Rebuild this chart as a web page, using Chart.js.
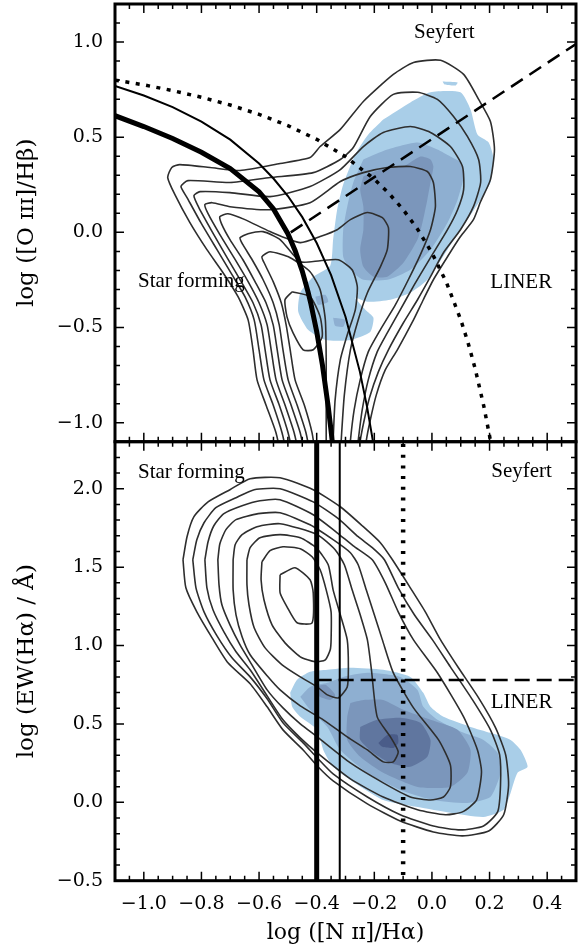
<!DOCTYPE html>
<html>
<head>
<meta charset="utf-8">
<title>BPT and WHAN diagrams</title>
<script src="https://cdn.jsdelivr.net/npm/chart.js@4.4.1/dist/chart.umd.min.js"></script>
<style>
  html, body { margin: 0; padding: 0; background: #fff; }
  #wrap { position: relative; width: 579px; height: 949px; }
  #wrap canvas { position: absolute; left: 0; top: 0; }
</style>
</head>
<body>
<div id="wrap">
  <canvas id="bpt" width="579" height="949"></canvas>
  <canvas id="whan" width="579" height="949"></canvas>
</div>
<script>
// --- Tick values ---
const xTicks = [-1.0, -0.8, -0.6, -0.4, -0.2, 0.0, 0.2, 0.4];
const bptYTicks = [-1.0, -0.5, 0.0, 0.5, 1.0];
const whanYTicks = [-0.5, 0.0, 0.5, 1.0, 1.5, 2.0];

// --- BPT demarcation lines ---
const kewley01 = [[-1.1,0.80],[-1.0,0.775],[-0.9,0.745],[-0.8,0.71],[-0.7,0.669],[-0.6,0.62],[-0.5,0.561],[-0.4,0.489],[-0.3,0.398],[-0.2,0.28],[-0.15,0.206],[-0.1,0.12],[-0.05,0.017],[0.0,-0.108],[0.05,-0.262],[0.1,-0.459],[0.125,-0.578],[0.15,-0.716],[0.18,-0.913],[0.2,-1.069],[0.22,-1.25]];
const kauffmann03 = [[-1.1,0.77],[-1.0,0.719],[-0.9,0.658],[-0.8,0.582],[-0.7,0.487],[-0.6,0.362],[-0.55,0.283],[-0.5,0.191],[-0.45,0.08],[-0.4,-0.056],[-0.35,-0.225],[-0.3,-0.443],[-0.25,-0.733],[-0.225,-0.918],[-0.2,-1.14],[-0.19,-1.242]];
const stasinska06 = [[-1.1,0.613],[-1.0,0.556],[-0.9,0.493],[-0.8,0.421],[-0.7,0.335],[-0.6,0.213],[-0.55,0.123],[-0.5,-0.007],[-0.475,-0.095],[-0.45,-0.204],[-0.43,-0.313],[-0.42,-0.376],[-0.4,-0.521],[-0.38,-0.698],[-0.36,-0.916],[-0.35,-1.043],[-0.34,-1.183]];
const seyfertLinerBpt = [[-0.49,0.0],[0.52,1.01]];

// --- BPT density contours (outer to inner) ---
const bptC1 = [[-0.52,-1.2],[-0.541,-1.054],[-0.576,-0.907],[-0.607,-0.775],[-0.621,-0.617],[-0.638,-0.46],[-0.673,-0.338],[-0.725,-0.212],[-0.781,-0.091],[-0.84,0.051],[-0.892,0.198],[-0.917,0.288],[-0.903,0.341],[-0.875,0.356],[-0.77,0.341],[-0.666,0.325],[-0.527,0.362],[-0.423,0.393],[-0.388,0.451],[-0.318,0.541],[-0.238,0.688],[-0.134,0.83],[-0.064,0.893],[0.03,0.904],[0.11,0.83],[0.162,0.699],[0.203,0.583],[0.217,0.435],[0.203,0.277],[0.169,0.162],[0.144,0.067],[0.099,-0.022],[0.054,-0.128],[0.005,-0.249],[-0.03,-0.354],[-0.064,-0.46],[-0.12,-0.617],[-0.162,-0.723],[-0.193,-0.854],[-0.214,-0.986],[-0.228,-1.096],[-0.235,-1.2]];
const bptC2 = [[-0.499,-1.2],[-0.52,-1.054],[-0.551,-0.907],[-0.583,-0.775],[-0.6,-0.617],[-0.617,-0.46],[-0.649,-0.338],[-0.694,-0.222],[-0.746,-0.091],[-0.802,0.051],[-0.85,0.183],[-0.871,0.241],[-0.847,0.272],[-0.701,0.262],[-0.562,0.288],[-0.412,0.314],[-0.318,0.383],[-0.273,0.446],[-0.214,0.609],[-0.134,0.725],[-0.05,0.736],[0.019,0.699],[0.075,0.609],[0.123,0.504],[0.162,0.383],[0.169,0.262],[0.144,0.135],[0.099,0.014],[0.04,-0.107],[-0.005,-0.233],[-0.05,-0.354],[-0.099,-0.475],[-0.151,-0.617],[-0.186,-0.733],[-0.217,-0.87],[-0.235,-0.986],[-0.249,-1.096],[-0.256,-1.2]];
const bptC3 = [[-0.478,-1.2],[-0.499,-1.054],[-0.53,-0.907],[-0.562,-0.775],[-0.579,-0.617],[-0.593,-0.486],[-0.621,-0.37],[-0.662,-0.259],[-0.711,-0.133],[-0.763,0.004],[-0.809,0.13],[-0.826,0.193],[-0.805,0.214],[-0.701,0.209],[-0.562,0.188],[-0.423,0.241],[-0.318,0.33],[-0.238,0.451],[-0.169,0.525],[-0.075,0.556],[-0.005,0.525],[0.064,0.451],[0.106,0.346],[0.11,0.225],[0.089,0.119],[0.054,0.014],[-0.005,-0.133],[-0.061,-0.275],[-0.11,-0.407],[-0.155,-0.528],[-0.19,-0.628],[-0.221,-0.775],[-0.242,-0.933],[-0.256,-1.096],[-0.263,-1.2]];
const bptC4 = [[-0.457,-1.2],[-0.478,-1.054],[-0.51,-0.907],[-0.541,-0.775],[-0.558,-0.617],[-0.572,-0.486],[-0.6,-0.37],[-0.638,-0.259],[-0.687,-0.133],[-0.736,-0.012],[-0.777,0.098],[-0.788,0.146],[-0.763,0.156],[-0.701,0.135],[-0.562,0.119],[-0.423,0.156],[-0.318,0.267],[-0.238,0.314],[-0.155,0.341],[-0.075,0.346],[-0.016,0.32],[0.005,0.262],[0.012,0.135],[-0.005,0.014],[-0.04,-0.117],[-0.082,-0.249],[-0.127,-0.381],[-0.179,-0.512],[-0.221,-0.628],[-0.249,-0.775],[-0.27,-0.933],[-0.283,-1.096],[-0.287,-1.2]];
const bptC5 = [[-0.437,-1.2],[-0.457,-1.054],[-0.489,-0.907],[-0.52,-0.775],[-0.537,-0.617],[-0.551,-0.486],[-0.576,-0.37],[-0.614,-0.259],[-0.656,-0.144],[-0.701,-0.038],[-0.729,0.041],[-0.736,0.083],[-0.708,0.098],[-0.649,0.067],[-0.562,0.004],[-0.457,-0.054],[-0.388,-0.022],[-0.329,0.014],[-0.283,0.067],[-0.224,0.104],[-0.172,0.077],[-0.151,0.025],[-0.155,-0.091],[-0.179,-0.181],[-0.224,-0.317],[-0.256,-0.46],[-0.283,-0.617],[-0.304,-0.854],[-0.315,-1.096],[-0.318,-1.2]];
const bptC6 = [[-0.419,-1.2],[-0.437,-1.054],[-0.468,-0.907],[-0.499,-0.775],[-0.517,-0.617],[-0.53,-0.486],[-0.551,-0.37],[-0.586,-0.249],[-0.624,-0.144],[-0.656,-0.065],[-0.666,-0.028],[-0.638,-0.007],[-0.586,0.004],[-0.527,-0.038],[-0.457,-0.154],[-0.388,-0.149],[-0.325,-0.144],[-0.277,-0.196],[-0.259,-0.286],[-0.266,-0.407],[-0.294,-0.539],[-0.318,-0.67],[-0.336,-0.88],[-0.343,-1.096],[-0.346,-1.2]];
const bptC7 = [[-0.402,-1.2],[-0.416,-1.054],[-0.443,-0.907],[-0.475,-0.775],[-0.492,-0.617],[-0.506,-0.486],[-0.523,-0.37],[-0.551,-0.259],[-0.579,-0.17],[-0.59,-0.128],[-0.562,-0.102],[-0.492,-0.133],[-0.423,-0.207],[-0.388,-0.302],[-0.37,-0.46],[-0.367,-0.67],[-0.367,-0.88],[-0.367,-1.096],[-0.367,-1.2]];
const bptC8 = [[-0.485,-0.312],[-0.423,-0.338],[-0.388,-0.444],[-0.381,-0.549],[-0.412,-0.617],[-0.447,-0.617],[-0.482,-0.528],[-0.503,-0.444],[-0.51,-0.354]];

// --- BPT filled density (light to dark) ---
const bptFillLight = [[-0.169,0.593],[-0.075,0.683],[-0.005,0.736],[0.099,0.736],[0.134,0.646],[0.158,0.514],[0.197,0.472],[0.214,0.383],[0.203,0.262],[0.169,0.172],[0.123,0.067],[0.054,-0.091],[-0.016,-0.249],[-0.075,-0.317],[-0.144,-0.354],[-0.224,-0.365],[-0.266,-0.344],[-0.231,-0.407],[-0.203,-0.449],[-0.214,-0.523],[-0.283,-0.565],[-0.37,-0.565],[-0.43,-0.512],[-0.464,-0.417],[-0.457,-0.317],[-0.412,-0.233],[-0.353,-0.175],[-0.343,-0.038],[-0.329,0.119],[-0.308,0.251],[-0.266,0.409],[-0.221,0.514]];
const bptFillLightSpot = [[0.037,0.793],[0.089,0.788],[0.082,0.772],[0.044,0.777]];
const bptFillMid = [[-0.238,0.383],[-0.155,0.435],[-0.05,0.472],[0.019,0.435],[0.064,0.398],[0.099,0.367],[0.11,0.293],[0.089,0.172],[0.054,0.051],[-0.005,-0.091],[-0.075,-0.196],[-0.155,-0.249],[-0.238,-0.249],[-0.283,-0.196],[-0.308,-0.128],[-0.308,0.014],[-0.294,0.135],[-0.273,0.262]];
const bptFillMidSpotA = [[-0.405,-0.338],[-0.37,-0.328],[-0.36,-0.365],[-0.395,-0.381]];
const bptFillMidSpotB = [[-0.343,-0.449],[-0.301,-0.46],[-0.308,-0.496],[-0.336,-0.491]];
const bptFillDark = [[-0.238,0.293],[-0.179,0.33],[-0.099,0.346],[-0.04,0.398],[-0.005,0.383],[0.005,0.346],[-0.005,0.262],[-0.016,0.172],[-0.033,0.051],[-0.05,-0.038],[-0.099,-0.16],[-0.155,-0.233],[-0.203,-0.233],[-0.238,-0.181],[-0.249,-0.091],[-0.238,0.014],[-0.238,0.135],[-0.249,0.225]];

// --- WHAN demarcation lines ---
const whanSfThick = [[-0.4,-0.6],[-0.4,2.4]];
const whanSfThin = [[-0.32,-0.6],[-0.32,2.4]];
const whanAgn = [[-0.1,-0.6],[-0.1,2.4]];
const whanLiner = [[-0.4,0.78],[0.55,0.78]];

// --- WHAN density contours (outer to inner) ---
const whanK1 = [[-0.864,1.547],[-0.85,1.694],[-0.826,1.822],[-0.777,1.916],[-0.701,1.994],[-0.631,2.064],[-0.527,2.07],[-0.412,1.994],[-0.318,1.885],[-0.242,1.764],[-0.179,1.656],[-0.137,1.547],[-0.075,1.368],[-0.023,1.215],[0.03,1.036],[0.092,0.858],[0.162,0.666],[0.221,0.475],[0.256,0.302],[0.266,0.111],[0.249,-0.079],[0.197,-0.183],[0.106,-0.214],[0.005,-0.189],[-0.11,-0.119],[-0.224,-0.01],[-0.343,0.137],[-0.398,0.232],[-0.447,0.334],[-0.517,0.462],[-0.572,0.609],[-0.631,0.756],[-0.708,0.89],[-0.763,1.049],[-0.816,1.215],[-0.854,1.368]];
const whanK2 = [[-0.83,1.547],[-0.816,1.675],[-0.791,1.783],[-0.75,1.879],[-0.68,1.943],[-0.617,1.994],[-0.527,2.0],[-0.412,1.916],[-0.325,1.809],[-0.256,1.694],[-0.207,1.624],[-0.165,1.547],[-0.117,1.368],[-0.061,1.196],[0.002,1.036],[0.064,0.864],[0.141,0.653],[0.203,0.462],[0.235,0.302],[0.238,0.111],[0.228,-0.061],[0.179,-0.151],[0.099,-0.176],[0.005,-0.151],[-0.11,-0.079],[-0.224,0.034],[-0.343,0.181],[-0.398,0.283],[-0.447,0.379],[-0.517,0.507],[-0.572,0.66],[-0.631,0.8],[-0.694,0.922],[-0.746,1.062],[-0.791,1.215],[-0.819,1.368]];
const whanK3 = [[-0.788,1.547],[-0.777,1.662],[-0.757,1.764],[-0.722,1.841],[-0.659,1.891],[-0.597,1.923],[-0.527,1.93],[-0.412,1.834],[-0.329,1.719],[-0.273,1.636],[-0.207,1.547],[-0.162,1.4],[-0.117,1.215],[-0.064,1.036],[0.019,0.826],[0.11,0.545],[0.158,0.334],[0.172,0.194],[0.155,0.015],[0.106,-0.061],[0.047,-0.079],[-0.05,-0.047],[-0.169,0.034],[-0.283,0.149],[-0.398,0.315],[-0.457,0.411],[-0.517,0.526],[-0.572,0.679],[-0.631,0.845],[-0.68,0.96],[-0.722,1.087],[-0.76,1.228],[-0.781,1.368]];
const whanK4 = [[-0.743,1.547],[-0.736,1.649],[-0.715,1.739],[-0.68,1.803],[-0.603,1.841],[-0.527,1.847],[-0.423,1.77],[-0.343,1.675],[-0.283,1.592],[-0.256,1.515],[-0.228,1.355],[-0.2,1.196],[-0.172,1.036],[-0.134,0.826],[-0.064,0.602],[0.023,0.398],[0.064,0.239],[0.064,0.098],[0.04,0.034],[-0.005,0.015],[-0.075,0.034],[-0.169,0.124],[-0.283,0.251],[-0.398,0.417],[-0.457,0.5],[-0.517,0.602],[-0.572,0.717],[-0.631,0.896],[-0.666,1.004],[-0.701,1.132],[-0.729,1.26],[-0.739,1.387]];
const whanK5 = [[-0.69,1.547],[-0.683,1.643],[-0.659,1.707],[-0.607,1.758],[-0.527,1.777],[-0.398,1.707],[-0.336,1.611],[-0.304,1.515],[-0.277,1.355],[-0.249,1.196],[-0.224,1.036],[-0.21,0.845],[-0.19,0.545],[-0.144,0.417],[-0.117,0.322],[-0.134,0.258],[-0.169,0.258],[-0.224,0.334],[-0.294,0.417],[-0.377,0.526],[-0.457,0.615],[-0.527,0.717],[-0.572,0.807],[-0.631,0.941],[-0.659,1.056],[-0.68,1.196],[-0.69,1.355]];
const whanK6 = [[-0.642,1.547],[-0.631,1.624],[-0.597,1.687],[-0.527,1.707],[-0.457,1.687],[-0.402,1.624],[-0.36,1.515],[-0.343,1.355],[-0.318,1.196],[-0.294,1.036],[-0.29,0.864],[-0.294,0.736],[-0.325,0.666],[-0.363,0.685],[-0.398,0.736],[-0.457,0.8],[-0.52,0.877],[-0.579,0.985],[-0.617,1.113],[-0.635,1.26],[-0.642,1.387]];
const whanK7 = [[-0.59,1.534],[-0.562,1.605],[-0.517,1.63],[-0.457,1.617],[-0.416,1.566],[-0.388,1.483],[-0.367,1.355],[-0.35,1.215],[-0.35,1.036],[-0.353,0.973],[-0.37,0.909],[-0.405,0.896],[-0.457,0.928],[-0.51,1.017],[-0.555,1.132],[-0.583,1.292],[-0.593,1.419]];
const whanK8 = [[-0.527,1.451],[-0.475,1.496],[-0.423,1.419],[-0.412,1.336],[-0.416,1.145],[-0.468,1.145],[-0.503,1.247],[-0.527,1.336]];

// --- WHAN filled density (light to dark) ---
const whanFill1 = [[-0.492,0.698],[-0.468,0.781],[-0.423,0.832],[-0.363,0.845],[-0.283,0.858],[-0.169,0.845],[-0.075,0.8],[-0.03,0.698],[-0.005,0.609],[0.04,0.545],[0.134,0.481],[0.203,0.443],[0.273,0.398],[0.308,0.334],[0.332,0.226],[0.297,0.188],[0.273,0.06],[0.249,-0.047],[0.179,-0.093],[0.064,-0.066],[-0.05,-0.03],[-0.169,0.015],[-0.283,0.143],[-0.343,0.226],[-0.377,0.334],[-0.398,0.462],[-0.457,0.545],[-0.485,0.609]];
const whanFill2 = [[-0.457,0.673],[-0.423,0.736],[-0.363,0.762],[-0.308,0.8],[-0.224,0.826],[-0.11,0.8],[-0.05,0.717],[-0.03,0.609],[0.019,0.526],[0.11,0.443],[0.179,0.398],[0.228,0.315],[0.238,0.188],[0.203,0.034],[0.123,-0.004],[0.005,0.015],[-0.11,0.079],[-0.224,0.188],[-0.318,0.334],[-0.363,0.481],[-0.423,0.59]];
const whanFill3 = [[-0.283,0.634],[-0.238,0.653],[-0.169,0.653],[-0.099,0.59],[-0.005,0.526],[0.089,0.462],[0.134,0.334],[0.123,0.188],[0.064,0.098],[-0.05,0.098],[-0.169,0.188],[-0.249,0.29],[-0.294,0.398],[-0.294,0.545]];
const whanFill3Spot = [[-0.405,0.736],[-0.37,0.749],[-0.336,0.685],[-0.353,0.653],[-0.395,0.679]];
const whanFill4 = [[-0.249,0.481],[-0.19,0.526],[-0.11,0.539],[-0.04,0.507],[-0.005,0.398],[-0.016,0.29],[-0.075,0.226],[-0.144,0.251],[-0.203,0.315],[-0.249,0.398]];
const whanFill5 = [[-0.186,0.379],[-0.155,0.43],[-0.12,0.43],[-0.117,0.379],[-0.134,0.347],[-0.172,0.354]];

// --- Region labels ---
const bptLabels = [
  { text: 'Seyfert', x: 0.043, y: 1.051 },
  { text: 'Star forming', x: -0.835, y: -0.26 },
  { text: 'LINER', x: 0.31, y: -0.265 }
];
const whanLabels = [
  { text: 'Star forming', x: -0.835, y: 2.102 },
  { text: 'Seyfert', x: 0.311, y: 2.109 },
  { text: 'LINER', x: 0.311, y: 0.634 }
];

// --- Styling ---
const BLUES = ['#a9cee8', '#8eafd1', '#7b96bb', '#60769f', '#4a5c89'];
const CONTOUR = '#2e2e2e';
const TICK_FONT = { family: 'DejaVu Serif', size: 19 };

// --- Helpers ---
function pts(arr) { return arr.map(([x, y]) => ({ x, y })); }
function closed(arr) { return arr.concat([arr[0]]); }
function fmt(v) {
  const s = Math.abs(v).toFixed(1);
  return v < -1e-9 ? '\u2212' + s : s;
}

function lineSet(arr, width, dash) {
  return {
    data: pts(arr), borderColor: '#000', borderWidth: width, borderDash: dash || [],
    borderCapStyle: 'butt', pointRadius: 0, fill: false, tension: 0, order: 1
  };
}
function contourSet(arr) {
  return {
    data: pts(arr), borderColor: CONTOUR, borderWidth: 1.6, pointRadius: 0,
    fill: false, tension: 0.2, order: 2
  };
}
// level 0 = lightest; lighter layers get a higher order so they are drawn underneath
function fillSet(arr, level) {
  return {
    data: pts(closed(arr)), borderWidth: 0, borderColor: BLUES[level], backgroundColor: BLUES[level],
    pointRadius: 0, fill: 'shape', tension: 0.2, order: 10 - level
  };
}

// --- Plugin: inward ticks, frame and region labels ---
const frameTicks = {
  id: 'frameTicks',
  afterDatasetsDraw(chart, args, opts) {
    const { ctx, chartArea: a } = chart;
    const x = chart.scales.x, y = chart.scales.y;
    const isMajor = (list, v) => list.some(t => Math.abs(t - v) < 1e-6);
    ctx.save();

    ctx.fillStyle = '#000';
    ctx.font = '21px "Liberation Serif"';
    ctx.textAlign = 'center';
    ctx.textBaseline = 'middle';
    opts.labels.forEach(l => ctx.fillText(l.text, x.getPixelForValue(l.x), y.getPixelForValue(l.y)));

    ctx.strokeStyle = '#000';
    ctx.lineWidth = 1.5;
    ctx.beginPath();
    for (let i = Math.ceil(x.min / 0.05 - 1e-6); i * 0.05 <= x.max + 1e-6; i++) {
      const v = i * 0.05, px = x.getPixelForValue(v), len = isMajor(xTicks, v) ? 9 : 5;
      ctx.moveTo(px, a.top); ctx.lineTo(px, a.top + len);
      ctx.moveTo(px, a.bottom); ctx.lineTo(px, a.bottom - len);
    }
    for (let i = Math.ceil(y.min / 0.1 - 1e-6); i * 0.1 <= y.max + 1e-6; i++) {
      const v = i * 0.1, py = y.getPixelForValue(v), len = isMajor(opts.yMajor, v) ? 9 : 5;
      ctx.moveTo(a.left, py); ctx.lineTo(a.left + len, py);
      ctx.moveTo(a.right, py); ctx.lineTo(a.right - len, py);
    }
    ctx.stroke();

    ctx.lineWidth = 3;
    ctx.strokeRect(a.left, a.top, a.right - a.left, a.bottom - a.top);
    ctx.restore();
  }
};

function yAxis(min, max, ticks, title) {
  return {
    type: 'linear', min, max,
    afterBuildTicks: s => { s.ticks = ticks.map(v => ({ value: v })); },
    afterFit: s => { s.width = 115; s.paddingTop = 0; s.paddingBottom = 0; },
    grid: { display: false, drawTicks: false },
    border: { display: false },
    ticks: { font: TICK_FONT, color: '#000', padding: 12, callback: v => fmt(v) },
    title: {
      display: true, text: title, color: '#000',
      font: { family: 'DejaVu Serif', size: 23 }, padding: { top: 13, bottom: 0 }
    }
  };
}

function baseOptions(padding, xAxis, yAx, plug) {
  return {
    responsive: false, animation: false, events: [],
    layout: { padding },
    scales: { x: xAxis, y: yAx },
    plugins: { legend: { display: false }, tooltip: { enabled: false }, frameTicks: plug }
  };
}

// --- Top panel: BPT ---
const bptData = [
  fillSet(bptFillLight, 0),
  fillSet(bptFillLightSpot, 0),
  fillSet(bptFillMid, 1),
  fillSet(bptFillMidSpotA, 1),
  fillSet(bptFillMidSpotB, 1),
  fillSet(bptFillDark, 2),
  ...[bptC1, bptC2, bptC3, bptC4, bptC5, bptC6, bptC7].map(contourSet),
  contourSet(closed(bptC8)),
  lineSet(kewley01, 3.5, [4, 6.5]),
  lineSet(kauffmann03, 2),
  lineSet(stasinska06, 5),
  lineSet(seyfertLinerBpt, 2.5, [14, 8])
];

new Chart(document.getElementById('bpt'), {
  type: 'line',
  data: { datasets: bptData },
  options: baseOptions(
    { top: 4, right: 3, bottom: 507.3, left: 0 },
    {
      type: 'linear', min: -1.1, max: 0.5, display: false,
      afterFit: s => { s.height = 0; s.paddingLeft = 0; s.paddingRight = 0; }
    },
    yAxis(-1.1, 1.2, bptYTicks, 'log ([O \u026a\u026a\u026a]/H\u03b2)'),
    { labels: bptLabels, yMajor: bptYTicks }
  ),
  plugins: [frameTicks]
});

// --- Bottom panel: WHAN ---
const whanData = [
  fillSet(whanFill1, 0),
  fillSet(whanFill2, 1),
  fillSet(whanFill3, 2),
  fillSet(whanFill3Spot, 2),
  fillSet(whanFill4, 3),
  fillSet(whanFill5, 4),
  ...[whanK1, whanK2, whanK3, whanK4, whanK5, whanK6, whanK7, whanK8].map(k => contourSet(closed(k))),
  lineSet(whanSfThick, 5),
  lineSet(whanSfThin, 2),
  lineSet(whanAgn, 4.5, [3, 7.7]),
  lineSet(whanLiner, 2.5, [15, 7])
];

new Chart(document.getElementById('whan'), {
  type: 'line',
  data: { datasets: whanData },
  options: baseOptions(
    { top: 441.7, right: 3, bottom: 0, left: 0 },
    {
      type: 'linear', min: -1.1, max: 0.5,
      afterBuildTicks: s => { s.ticks = xTicks.map(v => ({ value: v })); },
      afterFit: s => { s.height = 68.3; s.paddingLeft = 0; s.paddingRight = 0; },
      grid: { display: false, drawTicks: false },
      border: { display: false },
      ticks: { font: TICK_FONT, color: '#000', padding: 12, autoSkip: false, maxRotation: 0, callback: v => fmt(v) },
      title: {
        display: true, text: 'log ([N \u026a\u026a]/H\u03b1)', color: '#000',
        font: { family: 'DejaVu Serif', size: 22 }, padding: { top: 0, bottom: 3 }
      }
    },
    yAxis(-0.5, 2.3, whanYTicks, 'log (EW(H\u03b1) / \u00c5)'),
    { labels: whanLabels, yMajor: whanYTicks }
  ),
  plugins: [frameTicks]
});
</script>
</body>
</html>
